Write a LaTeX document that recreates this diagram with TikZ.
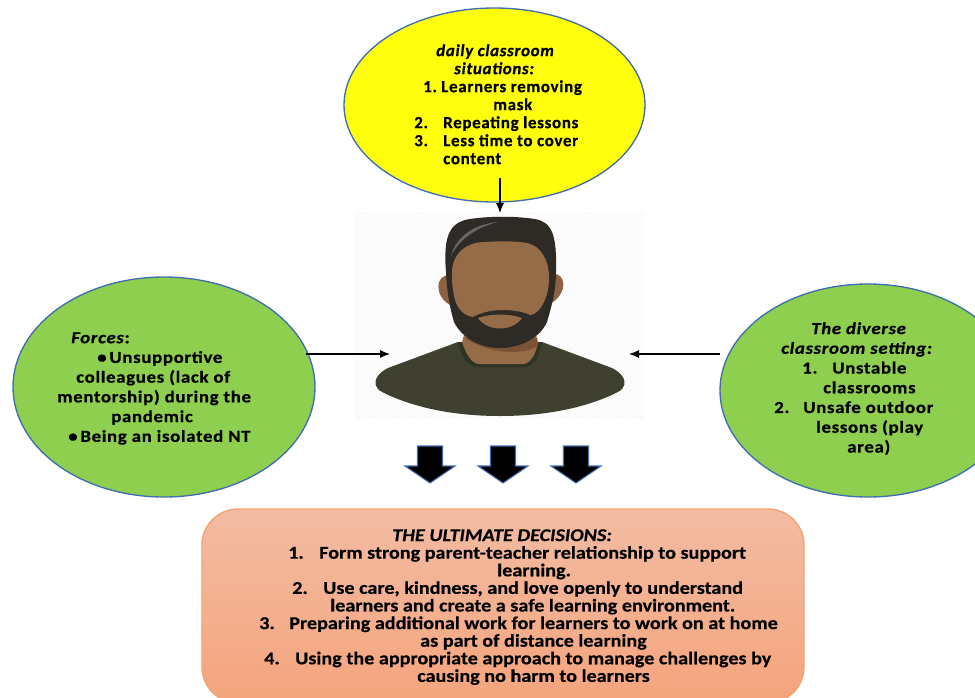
\documentclass[tikz,border=0pt]{standalone}
\usepackage{fontspec}
\setmainfont{Carlito}[FakeStretch=1.12,BoldFeatures={FakeBold=0.4},BoldItalicFeatures={FakeBold=0.4}]
\newfontfamily\roomyfont{Carlito}[LetterSpace=4,BoldFeatures={FakeBold=0.6},BoldItalicFeatures={FakeBold=0.6}]
\newfontfamily\widefont{Carlito}[LetterSpace=4,FakeStretch=1.12,BoldFeatures={FakeBold=0.6},BoldItalicFeatures={FakeBold=0.6}]
\usetikzlibrary{shapes.geometric,arrows.meta}
\newlength\pxu
\setlength\pxu{0.75pt}
\newcommand{\hop}[1]{\hspace*{#1\pxu}}
\newcommand{\numrow}[3]{\hspace*{#1\pxu}\makebox[#2\pxu][l]{#3}}
\definecolor{yellowfill}{HTML}{FFFF0D}
\definecolor{greenfill}{HTML}{8FCF50}
\definecolor{rimblue}{HTML}{3F6DB0}
\definecolor{hairdark}{HTML}{2E2A26}
\definecolor{skin}{HTML}{966B47}
\definecolor{skinear}{HTML}{8C6242}
\definecolor{skinshade}{HTML}{7A5236}
\definecolor{shirt}{HTML}{3F402F}
\definecolor{collar}{HTML}{2F3323}
\definecolor{boxtop}{HTML}{F3BCA3}
\definecolor{boxbottom}{HTML}{F4A47C}
\definecolor{boxrim}{HTML}{F4A26E}
\tikzset{
  bubble/.style={draw=rimblue,line width=1pt,ellipse,inner sep=0pt},
  bubbletext/.style={anchor=north west,inner sep=0pt,align=left,
    font=\roomyfont\bfseries\fontsize{12.7pt}{13.5pt}\selectfont},
  sidetext/.style={bubbletext,font=\widefont\bfseries\fontsize{12.6pt}{14.8pt}\selectfont},
  decisiontext/.style={anchor=north west,inner sep=0pt,align=left,
    font=\bfseries\fontsize{13.5pt}{13.2pt}\selectfont},
  pointer/.style={-{Latex[length=7.5pt,width=6pt]},line width=0.8pt},
  downblock/.style={fill=black,draw=rimblue,line width=0.8pt}
}
\begin{document}
\begin{tikzpicture}[x=\pxu,y=-\pxu]
   \useasboundingbox (0,0) rectangle (975,697);
   \clip (0,0) rectangle (975,697);
   % the three bubbles
   \node[bubble,fill=yellowfill,minimum width=301*\pxu,minimum height=194*\pxu] (situations) at (494.5,105) {};
   \node[bubble,fill=greenfill,minimum width=302*\pxu,minimum height=220*\pxu] (forces) at (164,387) {};
   \node[bubble,fill=greenfill,minimum width=296*\pxu,minimum height=213*\pxu] (setting) at (868,390.5) {};
   % person
   \node[fill=black!1,minimum width=289*\pxu,minimum height=206*\pxu,inner sep=0pt] (person) at (499.5,315) {};
   \begin{scope}
     \clip (355,212) rectangle (644,418);
     \foreach \s in {0,14,...,700}
       \draw[black!2,line width=1.5pt] (340+\s,430) -- ++(-400,-220);
   \end{scope}
   \fill[skinear] (450,275) .. controls (436,274) and (433,295) .. (450,305) -- cycle;
   \fill[skinear] (552,274) .. controls (566,272) and (569,293) .. (550,304) -- cycle;
   \fill[shirt] (458,342) -- (542,342) -- (612,368) .. controls (628,376) and (628,388) .. (616,393)
     .. controls (585,408) and (545,416) .. (500,416) .. controls (455,416) and (415,408) .. (384,393)
     .. controls (372,388) and (372,376) .. (388,368) -- cycle;
   \fill[collar] (458,342) -- (542,342) .. controls (540,355) and (535,366) .. (525,367)
     -- (477,367) .. controls (467,366) and (460,355) .. (458,342) -- cycle;
   \fill[skin] (464,335) -- (536,335) -- (538,342) .. controls (536,353) and (532,362) .. (524,364)
     -- (478,364) .. controls (470,362) and (466,353) .. (462,342) -- cycle;
   \fill[skinshade] (465,338) -- (537,338) -- (537,346) .. controls (525,355) and (490,355) .. (465,338) -- cycle;
   \fill[hairdark] (446,272) .. controls (443,235) and (450,222) .. (470,219)
     .. controls (490,216) and (515,216) .. (535,219) .. controls (552,222) and (557,235) .. (556,272)
     .. controls (556,290) and (552,305) .. (547,322) .. controls (540,338) and (520,348) .. (500,348)
     .. controls (480,348) and (462,338) .. (454,322) .. controls (449,305) and (447,290) .. (446,272) -- cycle;
   \fill[skin] (452,275) .. controls (451,258) and (462,242) .. (485,242)
     .. controls (500,241) and (515,241) .. (527,243) .. controls (542,246) and (549,262) .. (549,277)
     .. controls (549,288) and (547,296) .. (544,302) .. controls (540,310) and (535,315) .. (530,315)
     .. controls (518,309) and (490,307) .. (473,317) .. controls (465,316) and (458,310) .. (455,300)
     .. controls (453,292) and (452,285) .. (452,275) -- cycle;
   \fill[skin] (478,318) .. controls (490,313.5) and (510,313.5) .. (522,318) .. controls (512,332) and (488,332) .. (478,318) -- cycle;
   \fill[black!60] (451,256) .. controls (456,236) and (475,224) .. (498,222) .. controls (478,227) and (460,238) .. (451,256) -- cycle;
   % arrows into the person
   \coordinate (situationstail) at (500,178);
   \coordinate (situationshead) at (500,213);
   \coordinate (forcestail) at (306,354);
   \coordinate (forceshead) at (390,354);
   \coordinate (settingtail) at (720,354);
   \coordinate (settinghead) at (629,354);
   \path[pointer]
    (situationstail) edge (situationshead)
    (forcestail) edge (forceshead)
    (settingtail) edge (settinghead);
   % block arrows
   \foreach \x in {430,503,576}
     \draw[downblock] (\x-12.5,446) -- (\x+12.5,446) -- (\x+12.5,466) -- (\x+25,466)
       -- (\x,483) -- (\x-25,466) -- (\x-12.5,466) -- cycle;
   % decisions box
   \node[draw=boxrim,line width=1pt,rounded corners=36*\pxu,top color=boxtop,
     bottom color=boxbottom,minimum width=602*\pxu,minimum height=194*\pxu,inner sep=0pt] (decisions) at (503,606) {};
   % texts
   \node[bubbletext] (situationstext) at (414,44) {\hop{22}\textit{daily classroom}\\
     \hop{40}\textit{situations:}\\
     \numrow{9}{18}{1.}Learners removing\\
     \hop{79}mask\\
     \numrow{0}{29}{2.}Repeating lessons\\
     \numrow{0}{29}{3.}Less time to cover\\
     \hop{29}content};
   \node[sidetext] (forcestext) at (57,332) {\hop{14}\textit{Forces}:\\
     \hop{40}\textbullet\,Unsupportive\\
     \hop{19}colleagues (lack of\\
     mentorship) during the\\
     \hop{54}pandemic\\
     \hop{11}\textbullet\,Being an isolated NT};
   \node[sidetext] (settingtext) at (774,322) {\hop{37}\textit{The diverse}\\
     \hop{7}\textit{classroom setting:}\\
     \numrow{28}{30}{1.}Unstable\\
     \hop{49}classrooms\\
     \numrow{0}{29}{2.}Unsafe outdoor\\
     \hop{42}lessons (play\\
     \hop{73}area)};
   \node[decisiontext] (decisionstext) at (259,529) {\hop{133}\textit{THE ULTIMATE DECISIONS:}\\
     \numrow{29}{31}{1.}Form strong parent-teacher relationship to support\\
     \hop{238}learning.\\
     \numrow{33}{31}{2.}Use care, kindness, and love openly to understand\\
     \hop{71}learners and create a safe learning environment.\\
     \numrow{0}{30}{3.}Preparing additional work for learners to work on at home\\
     \hop{161}as part of distance learning\\
     \numrow{5}{31}{4.}Using the appropriate approach to manage challenges by\\
     \hop{158}causing no harm to learners};
\end{tikzpicture}
\end{document}
